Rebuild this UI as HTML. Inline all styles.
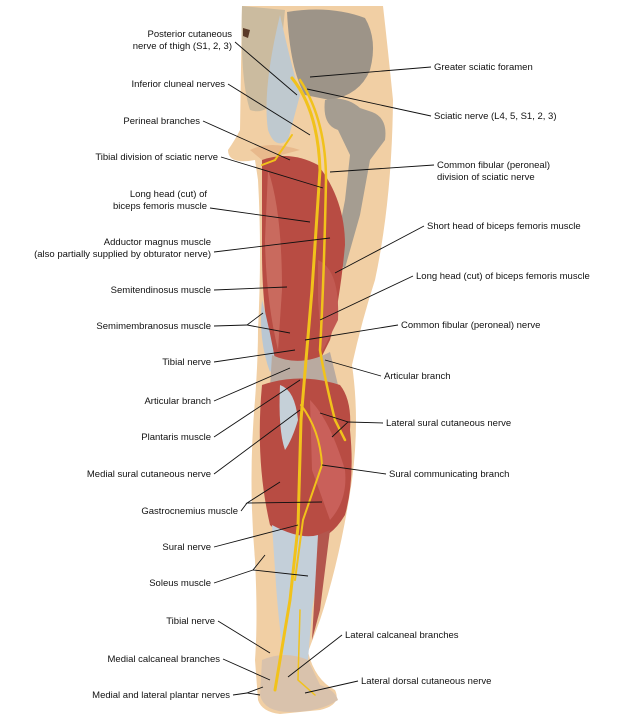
<!DOCTYPE html>
<html><head><meta charset="utf-8"><style>
html,body{margin:0;padding:0;background:#fff;}
svg{display:block}
text{font-family:"Liberation Sans",sans-serif;font-size:9.5px;fill:#111}
.r{text-anchor:end}
line,polyline{stroke:#111;stroke-width:0.9;fill:none}
</style></head><body>
<svg width="621" height="727" viewBox="0 0 621 727" xmlns="http://www.w3.org/2000/svg">
<!-- skin silhouette -->
<path d="M242,6 L383,6 Q388,50 393,100 Q392,200 375,280 Q362,320 352,365 Q360,420 352,480 Q340,560 320,620 L308,652 Q315,680 335,690 Q342,705 320,710 L280,714 Q262,712 258,700 L255,660 Q258,620 255,560 Q248,480 255,400 Q258,360 258,330 Q262,250 258,180 L255,160 Q228,165 228,150 Q235,140 240,130 Z" fill="#f1cfa4"/>
<path d="M250,150 Q270,140 300,150 L262,160 Z" fill="#e8b98c"/>
<!-- sacrum -->
<path d="M242,6 L285,10 Q280,60 275,100 Q265,115 250,110 Q240,80 242,6 Z" fill="#cbbb9f"/>
<path d="M243,28 L250,30 L248,38 L243,36 Z" fill="#5a3a28"/>
<!-- ilium -->
<path d="M287,12 Q330,5 365,18 Q378,40 370,70 Q360,95 330,100 L305,95 Q290,70 287,12 Z" fill="#9d9488"/>
<path d="M280,15 Q290,60 300,95 L288,140 Q275,150 268,130 Q262,90 280,15 Z" fill="#bfc9cf"/>
<!-- femur -->
<path d="M325,100 Q345,95 360,108 L372,112 Q388,118 385,140 L370,160 L360,215 L345,268 L333,262 L345,200 L350,155 L338,130 Q322,125 325,100 Z" fill="#a59d91"/>
<!-- thigh muscles -->
<path d="M262,160 Q290,150 318,165 Q345,200 345,245 Q340,300 330,340 L320,360 Q300,368 275,362 Q262,320 262,250 Z" fill="#b84c43"/>
<path d="M268,170 Q282,210 282,290 L278,350 Q266,300 265,240 Z" fill="#c96a5e"/>
<path d="M318,260 Q340,270 338,320 L322,352 L318,300 Z" fill="#c25a52"/>
<path d="M262,300 Q270,330 276,365 L270,372 Q258,340 262,300 Z" fill="#b9c7d3"/>
<!-- knee -->
<path d="M272,355 Q300,368 330,352 L338,385 Q305,392 270,388 Z" fill="#b9aaa0"/>
<!-- calf -->
<path d="M262,385 Q300,372 340,385 Q352,400 350,430 Q355,480 345,515 Q330,540 310,540 Q285,540 270,525 Q255,460 262,385 Z" fill="#b84c43"/>
<path d="M280,385 Q295,390 298,420 Q292,440 285,450 Q278,430 280,385 Z" fill="#c5d0d8"/>
<path d="M310,400 Q330,420 345,470 Q348,500 330,520 L312,470 Z" fill="#c9605a"/>
<!-- tendon -->
<path d="M272,525 Q300,540 318,535 L320,560 L312,610 L308,660 L285,668 Q278,620 275,570 Z" fill="#c3cfd9"/>
<path d="M318,535 L330,530 L320,610 L312,640 Z" fill="#b3564d"/>
<!-- foot / heel -->
<path d="M262,660 Q285,650 308,660 L320,685 Q335,690 338,700 Q320,712 290,712 Q264,712 260,695 Z" fill="#d9c2ac"/>
<!-- nerves -->
<g stroke="#f1c21b" stroke-width="3" fill="none" stroke-linecap="round">
<path d="M292,78 Q318,110 320,170 Q316,230 312,290 L306,360 L301,420 L298,527 L290,600 L275,690"/>
<path d="M300,80 Q326,120 326,180 Q324,280 320,350 Q325,380 335,420 L345,440" stroke-width="2.5"/>
<path d="M301,405 Q320,430 322,465 L303,520 L295,580" stroke-width="2"/>
<path d="M292,135 L275,160 L262,165" stroke-width="2"/>
<path d="M300,610 L298,680 L315,695" stroke-width="1.5"/>
</g>
<!-- left labels -->
<text class="r" x="232" y="37">Posterior cutaneous</text>
<text class="r" x="232" y="49">nerve of thigh (S1, 2, 3)</text>
<text class="r" x="225" y="87">Inferior cluneal nerves</text>
<text class="r" x="200" y="124">Perineal branches</text>
<text class="r" x="218" y="160">Tibial division of sciatic nerve</text>
<text class="r" x="207" y="197">Long head (cut) of</text>
<text class="r" x="207" y="209">biceps femoris muscle</text>
<text class="r" x="211" y="245">Adductor magnus muscle</text>
<text class="r" x="211" y="257">(also partially supplied by obturator nerve)</text>
<text class="r" x="211" y="293">Semitendinosus muscle</text>
<text class="r" x="211" y="329">Semimembranosus muscle</text>
<text class="r" x="211" y="365">Tibial nerve</text>
<text class="r" x="211" y="404">Articular branch</text>
<text class="r" x="211" y="440">Plantaris muscle</text>
<text class="r" x="211" y="477">Medial sural cutaneous nerve</text>
<text class="r" x="238" y="514">Gastrocnemius muscle</text>
<text class="r" x="211" y="550">Sural nerve</text>
<text class="r" x="211" y="586">Soleus muscle</text>
<text class="r" x="215" y="624">Tibial nerve</text>
<text class="r" x="220" y="662">Medial calcaneal branches</text>
<text class="r" x="230" y="698">Medial and lateral plantar nerves</text>
<!-- right labels -->
<text x="434" y="70">Greater sciatic foramen</text>
<text x="434" y="119">Sciatic nerve (L4, 5, S1, 2, 3)</text>
<text x="437" y="168">Common fibular (peroneal)</text>
<text x="437" y="180">division of sciatic nerve</text>
<text x="427" y="229">Short head of biceps femoris muscle</text>
<text x="416" y="279">Long head (cut) of biceps femoris muscle</text>
<text x="401" y="328">Common fibular (peroneal) nerve</text>
<text x="384" y="379">Articular branch</text>
<text x="386" y="426">Lateral sural cutaneous nerve</text>
<text x="389" y="477">Sural communicating branch</text>
<text x="345" y="638">Lateral calcaneal branches</text>
<text x="361" y="684">Lateral dorsal cutaneous nerve</text>
<!-- leaders left -->
<line x1="235" y1="42" x2="297" y2="95"/>
<line x1="228" y1="84" x2="310" y2="135"/>
<line x1="203" y1="121" x2="290" y2="160"/>
<line x1="221" y1="157" x2="323" y2="188"/>
<line x1="210" y1="208" x2="310" y2="222"/>
<line x1="214" y1="252" x2="330" y2="238"/>
<line x1="214" y1="290" x2="287" y2="287"/>
<polyline points="263,313 247,325 290,333"/><line x1="214" y1="326" x2="247" y2="325"/>
<line x1="214" y1="362" x2="295" y2="350"/>
<line x1="214" y1="401" x2="290" y2="368"/>
<line x1="214" y1="437" x2="300" y2="380"/>
<line x1="214" y1="474" x2="300" y2="410"/>
<polyline points="280,482 247,503 322,502"/><line x1="241" y1="511" x2="247" y2="503"/>
<line x1="214" y1="547" x2="298" y2="525"/>
<polyline points="265,555 253,570 308,576"/><line x1="214" y1="583" x2="253" y2="570"/>
<line x1="218" y1="621" x2="270" y2="653"/>
<line x1="223" y1="659" x2="270" y2="680"/>
<polyline points="263,687 247,693 260,695"/><line x1="233" y1="695" x2="247" y2="693"/>
<!-- leaders right -->
<line x1="431" y1="67" x2="310" y2="77"/>
<line x1="431" y1="116" x2="307" y2="89"/>
<line x1="434" y1="165" x2="330" y2="172"/>
<line x1="424" y1="226" x2="335" y2="273"/>
<line x1="413" y1="276" x2="320" y2="320"/>
<line x1="398" y1="325" x2="305" y2="340"/>
<line x1="381" y1="376" x2="325" y2="360"/>
<polyline points="320,413 348,422 332,437"/><line x1="383" y1="423" x2="348" y2="422"/>
<line x1="386" y1="474" x2="322" y2="465"/>
<line x1="342" y1="635" x2="288" y2="677"/>
<line x1="358" y1="681" x2="305" y2="693"/>
</svg>
</body></html>
